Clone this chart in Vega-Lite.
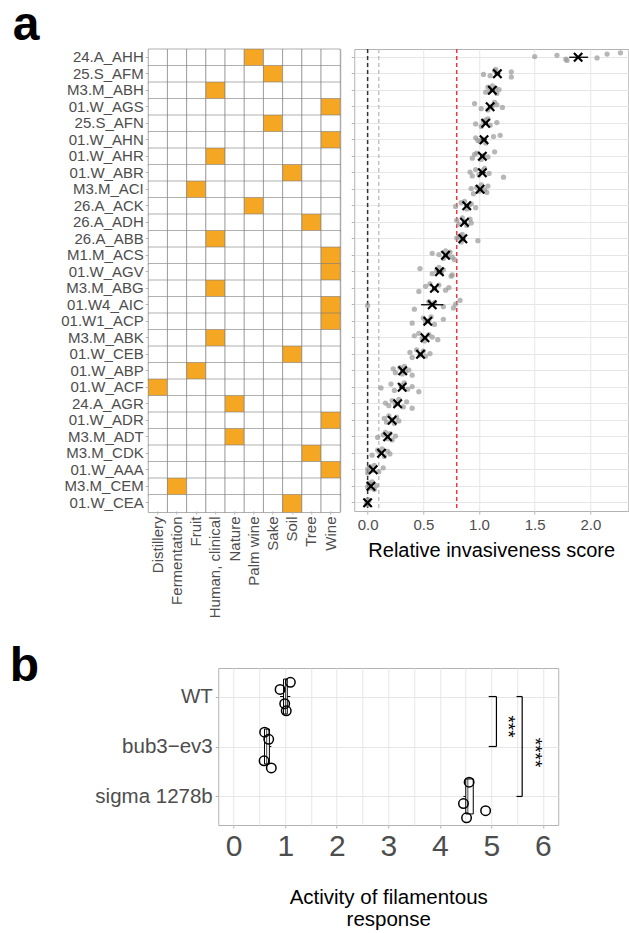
{
"$schema":"https://vega.github.io/schema/vega-lite/v6.json",
"background":"white",
"padding":{"left":8,"top":0,"right":0,"bottom":0},
"config":{
 "font":"Liberation Sans",
 "view":{"stroke":"#b3b3b3","strokeWidth":1},
 "axis":{"domain":false,"labelColor":"#4d4d4d","tickColor":"#b3b3b3","gridColor":"#e6e6e6","titleColor":"#000000","titleFontWeight":"normal","labelFont":"Liberation Sans","titleFont":"Liberation Sans"}
},
"datasets":{
 "origins":[
  {"strain":"24.A_AHH","Distillery":0,"Fermentation":0,"Fruit":0,"Human, clinical":0,"Nature":0,"Palm wine":1,"Sake":0,"Soil":0,"Tree":0,"Wine":0},
  {"strain":"25.S_AFM","Distillery":0,"Fermentation":0,"Fruit":0,"Human, clinical":0,"Nature":0,"Palm wine":0,"Sake":1,"Soil":0,"Tree":0,"Wine":0},
  {"strain":"M3.M_ABH","Distillery":0,"Fermentation":0,"Fruit":0,"Human, clinical":1,"Nature":0,"Palm wine":0,"Sake":0,"Soil":0,"Tree":0,"Wine":0},
  {"strain":"01.W_AGS","Distillery":0,"Fermentation":0,"Fruit":0,"Human, clinical":0,"Nature":0,"Palm wine":0,"Sake":0,"Soil":0,"Tree":0,"Wine":1},
  {"strain":"25.S_AFN","Distillery":0,"Fermentation":0,"Fruit":0,"Human, clinical":0,"Nature":0,"Palm wine":0,"Sake":1,"Soil":0,"Tree":0,"Wine":0},
  {"strain":"01.W_AHN","Distillery":0,"Fermentation":0,"Fruit":0,"Human, clinical":0,"Nature":0,"Palm wine":0,"Sake":0,"Soil":0,"Tree":0,"Wine":1},
  {"strain":"01.W_AHR","Distillery":0,"Fermentation":0,"Fruit":0,"Human, clinical":1,"Nature":0,"Palm wine":0,"Sake":0,"Soil":0,"Tree":0,"Wine":0},
  {"strain":"01.W_ABR","Distillery":0,"Fermentation":0,"Fruit":0,"Human, clinical":0,"Nature":0,"Palm wine":0,"Sake":0,"Soil":1,"Tree":0,"Wine":0},
  {"strain":"M3.M_ACI","Distillery":0,"Fermentation":0,"Fruit":1,"Human, clinical":0,"Nature":0,"Palm wine":0,"Sake":0,"Soil":0,"Tree":0,"Wine":0},
  {"strain":"26.A_ACK","Distillery":0,"Fermentation":0,"Fruit":0,"Human, clinical":0,"Nature":0,"Palm wine":1,"Sake":0,"Soil":0,"Tree":0,"Wine":0},
  {"strain":"26.A_ADH","Distillery":0,"Fermentation":0,"Fruit":0,"Human, clinical":0,"Nature":0,"Palm wine":0,"Sake":0,"Soil":0,"Tree":1,"Wine":0},
  {"strain":"26.A_ABB","Distillery":0,"Fermentation":0,"Fruit":0,"Human, clinical":1,"Nature":0,"Palm wine":0,"Sake":0,"Soil":0,"Tree":0,"Wine":0},
  {"strain":"M1.M_ACS","Distillery":0,"Fermentation":0,"Fruit":0,"Human, clinical":0,"Nature":0,"Palm wine":0,"Sake":0,"Soil":0,"Tree":0,"Wine":1},
  {"strain":"01.W_AGV","Distillery":0,"Fermentation":0,"Fruit":0,"Human, clinical":0,"Nature":0,"Palm wine":0,"Sake":0,"Soil":0,"Tree":0,"Wine":1},
  {"strain":"M3.M_ABG","Distillery":0,"Fermentation":0,"Fruit":0,"Human, clinical":1,"Nature":0,"Palm wine":0,"Sake":0,"Soil":0,"Tree":0,"Wine":0},
  {"strain":"01.W4_AIC","Distillery":0,"Fermentation":0,"Fruit":0,"Human, clinical":0,"Nature":0,"Palm wine":0,"Sake":0,"Soil":0,"Tree":0,"Wine":1},
  {"strain":"01.W1_ACP","Distillery":0,"Fermentation":0,"Fruit":0,"Human, clinical":0,"Nature":0,"Palm wine":0,"Sake":0,"Soil":0,"Tree":0,"Wine":1},
  {"strain":"M3.M_ABK","Distillery":0,"Fermentation":0,"Fruit":0,"Human, clinical":1,"Nature":0,"Palm wine":0,"Sake":0,"Soil":0,"Tree":0,"Wine":0},
  {"strain":"01.W_CEB","Distillery":0,"Fermentation":0,"Fruit":0,"Human, clinical":0,"Nature":0,"Palm wine":0,"Sake":0,"Soil":1,"Tree":0,"Wine":0},
  {"strain":"01.W_ABP","Distillery":0,"Fermentation":0,"Fruit":1,"Human, clinical":0,"Nature":0,"Palm wine":0,"Sake":0,"Soil":0,"Tree":0,"Wine":0},
  {"strain":"01.W_ACF","Distillery":1,"Fermentation":0,"Fruit":0,"Human, clinical":0,"Nature":0,"Palm wine":0,"Sake":0,"Soil":0,"Tree":0,"Wine":0},
  {"strain":"24.A_AGR","Distillery":0,"Fermentation":0,"Fruit":0,"Human, clinical":0,"Nature":1,"Palm wine":0,"Sake":0,"Soil":0,"Tree":0,"Wine":0},
  {"strain":"01.W_ADR","Distillery":0,"Fermentation":0,"Fruit":0,"Human, clinical":0,"Nature":0,"Palm wine":0,"Sake":0,"Soil":0,"Tree":0,"Wine":1},
  {"strain":"M3.M_ADT","Distillery":0,"Fermentation":0,"Fruit":0,"Human, clinical":0,"Nature":1,"Palm wine":0,"Sake":0,"Soil":0,"Tree":0,"Wine":0},
  {"strain":"M3.M_CDK","Distillery":0,"Fermentation":0,"Fruit":0,"Human, clinical":0,"Nature":0,"Palm wine":0,"Sake":0,"Soil":0,"Tree":1,"Wine":0},
  {"strain":"01.W_AAA","Distillery":0,"Fermentation":0,"Fruit":0,"Human, clinical":0,"Nature":0,"Palm wine":0,"Sake":0,"Soil":0,"Tree":0,"Wine":1},
  {"strain":"M3.M_CEM","Distillery":0,"Fermentation":1,"Fruit":0,"Human, clinical":0,"Nature":0,"Palm wine":0,"Sake":0,"Soil":0,"Tree":0,"Wine":0},
  {"strain":"01.W_CEA","Distillery":0,"Fermentation":0,"Fruit":0,"Human, clinical":0,"Nature":0,"Palm wine":0,"Sake":0,"Soil":1,"Tree":0,"Wine":0}
 ],
 "refs":[{"ref":"zero","score":0},{"ref":"low","score":0.1},{"ref":"cutoff","score":0.8}],
 "means":[
  {"strain":"24.A_AHH","score":1.89,"lo":1.81,"hi":1.98},
  {"strain":"25.S_AFM","score":1.165,"lo":1.14,"hi":1.19},
  {"strain":"M3.M_ABH","score":1.12,"lo":1.1,"hi":1.14},
  {"strain":"01.W_AGS","score":1.1,"lo":1.08,"hi":1.12},
  {"strain":"25.S_AFN","score":1.06,"lo":1.04,"hi":1.08},
  {"strain":"01.W_AHN","score":1.045,"lo":1.02,"hi":1.07},
  {"strain":"01.W_AHR","score":1.03,"lo":1.01,"hi":1.05},
  {"strain":"01.W_ABR","score":1.03,"lo":1.0,"hi":1.06},
  {"strain":"M3.M_ACI","score":1.01,"lo":0.99,"hi":1.03},
  {"strain":"26.A_ACK","score":0.89,"lo":0.87,"hi":0.91},
  {"strain":"26.A_ADH","score":0.87,"lo":0.85,"hi":0.89},
  {"strain":"26.A_ABB","score":0.855,"lo":0.835,"hi":0.875},
  {"strain":"M1.M_ACS","score":0.7,"lo":0.68,"hi":0.72},
  {"strain":"01.W_AGV","score":0.645,"lo":0.62,"hi":0.67},
  {"strain":"M3.M_ABG","score":0.6,"lo":0.58,"hi":0.62},
  {"strain":"01.W4_AIC","score":0.58,"lo":0.48,"hi":0.68},
  {"strain":"01.W1_ACP","score":0.54,"lo":0.52,"hi":0.56},
  {"strain":"M3.M_ABK","score":0.515,"lo":0.495,"hi":0.535},
  {"strain":"01.W_CEB","score":0.475,"lo":0.455,"hi":0.495},
  {"strain":"01.W_ABP","score":0.315,"lo":0.295,"hi":0.335},
  {"strain":"01.W_ACF","score":0.31,"lo":0.285,"hi":0.335},
  {"strain":"24.A_AGR","score":0.27,"lo":0.25,"hi":0.29},
  {"strain":"01.W_ADR","score":0.22,"lo":0.205,"hi":0.235},
  {"strain":"M3.M_ADT","score":0.18,"lo":0.165,"hi":0.195},
  {"strain":"M3.M_CDK","score":0.125,"lo":0.11,"hi":0.14},
  {"strain":"01.W_AAA","score":0.05,"lo":0.035,"hi":0.065},
  {"strain":"M3.M_CEM","score":0.03,"lo":0.02,"hi":0.04},
  {"strain":"01.W_CEA","score":0.0,"lo":-0.005,"hi":0.005}
 ],
 "pts":[
  {"strain":"24.A_AHH","rep":1,"score":2.27},{"strain":"24.A_AHH","rep":2,"score":2.15},{"strain":"24.A_AHH","rep":3,"score":1.7},{"strain":"24.A_AHH","rep":4,"score":1.5},{"strain":"24.A_AHH","rep":5,"score":2.06},{"strain":"24.A_AHH","rep":6,"score":1.78},{"strain":"24.A_AHH","rep":7,"score":1.79},
  {"strain":"25.S_AFM","rep":1,"score":1.15},{"strain":"25.S_AFM","rep":2,"score":1.14},{"strain":"25.S_AFM","rep":3,"score":1.29},{"strain":"25.S_AFM","rep":4,"score":1.17},{"strain":"25.S_AFM","rep":5,"score":1.04},{"strain":"25.S_AFM","rep":6,"score":1.1},{"strain":"25.S_AFM","rep":7,"score":1.29},
  {"strain":"M3.M_ABH","rep":1,"score":1.12},{"strain":"M3.M_ABH","rep":2,"score":1.08},{"strain":"M3.M_ABH","rep":3,"score":1.15},{"strain":"M3.M_ABH","rep":4,"score":1.18},{"strain":"M3.M_ABH","rep":5,"score":1.1},{"strain":"M3.M_ABH","rep":6,"score":1.06},{"strain":"M3.M_ABH","rep":7,"score":1.16},
  {"strain":"01.W_AGS","rep":1,"score":1.14},{"strain":"01.W_AGS","rep":2,"score":0.96},{"strain":"01.W_AGS","rep":3,"score":1.16},{"strain":"01.W_AGS","rep":4,"score":1.12},{"strain":"01.W_AGS","rep":5,"score":1.21},{"strain":"01.W_AGS","rep":6,"score":1.02},{"strain":"01.W_AGS","rep":7,"score":1.08},
  {"strain":"25.S_AFN","rep":1,"score":1.08},{"strain":"25.S_AFN","rep":2,"score":1.06},{"strain":"25.S_AFN","rep":3,"score":1.04},{"strain":"25.S_AFN","rep":4,"score":1.16},{"strain":"25.S_AFN","rep":5,"score":0.97},{"strain":"25.S_AFN","rep":6,"score":1.1},{"strain":"25.S_AFN","rep":7,"score":1.02},
  {"strain":"01.W_AHN","rep":1,"score":1.19},{"strain":"01.W_AHN","rep":2,"score":1.13},{"strain":"01.W_AHN","rep":3,"score":0.97},{"strain":"01.W_AHN","rep":4,"score":1.03},{"strain":"01.W_AHN","rep":5,"score":0.99},{"strain":"01.W_AHN","rep":6,"score":1.01},{"strain":"01.W_AHN","rep":7,"score":1.06},
  {"strain":"01.W_AHR","rep":1,"score":1.14},{"strain":"01.W_AHR","rep":2,"score":0.98},{"strain":"01.W_AHR","rep":3,"score":0.96},{"strain":"01.W_AHR","rep":4,"score":1.04},{"strain":"01.W_AHR","rep":5,"score":1.08},{"strain":"01.W_AHR","rep":6,"score":0.94},{"strain":"01.W_AHR","rep":7,"score":1.02},
  {"strain":"01.W_ABR","rep":1,"score":1.05},{"strain":"01.W_ABR","rep":2,"score":0.97},{"strain":"01.W_ABR","rep":3,"score":1.03},{"strain":"01.W_ABR","rep":4,"score":0.92},{"strain":"01.W_ABR","rep":5,"score":1.09},{"strain":"01.W_ABR","rep":6,"score":1.0},{"strain":"01.W_ABR","rep":7,"score":0.94},{"strain":"01.W_ABR","rep":8,"score":1.22},
  {"strain":"M3.M_ACI","rep":1,"score":1.02},{"strain":"M3.M_ACI","rep":2,"score":1.08},{"strain":"M3.M_ACI","rep":3,"score":0.98},{"strain":"M3.M_ACI","rep":4,"score":0.93},{"strain":"M3.M_ACI","rep":5,"score":1.05},{"strain":"M3.M_ACI","rep":6,"score":1.0},{"strain":"M3.M_ACI","rep":7,"score":1.07},{"strain":"M3.M_ACI","rep":8,"score":0.95},
  {"strain":"26.A_ACK","rep":1,"score":0.87},{"strain":"26.A_ACK","rep":2,"score":0.84},{"strain":"26.A_ACK","rep":3,"score":0.93},{"strain":"26.A_ACK","rep":4,"score":0.91},{"strain":"26.A_ACK","rep":5,"score":0.79},{"strain":"26.A_ACK","rep":6,"score":0.97},{"strain":"26.A_ACK","rep":7,"score":0.89},
  {"strain":"26.A_ADH","rep":1,"score":0.85},{"strain":"26.A_ADH","rep":2,"score":0.92},{"strain":"26.A_ADH","rep":3,"score":0.8},{"strain":"26.A_ADH","rep":4,"score":0.87},{"strain":"26.A_ADH","rep":5,"score":0.93},{"strain":"26.A_ADH","rep":6,"score":0.82},{"strain":"26.A_ADH","rep":7,"score":0.89},
  {"strain":"26.A_ABB","rep":1,"score":0.85},{"strain":"26.A_ABB","rep":2,"score":0.83},{"strain":"26.A_ABB","rep":3,"score":0.82},{"strain":"26.A_ABB","rep":4,"score":0.8},{"strain":"26.A_ABB","rep":5,"score":0.86},{"strain":"26.A_ABB","rep":6,"score":0.99},{"strain":"26.A_ABB","rep":7,"score":0.84},
  {"strain":"M1.M_ACS","rep":1,"score":0.7},{"strain":"M1.M_ACS","rep":2,"score":0.74},{"strain":"M1.M_ACS","rep":3,"score":0.58},{"strain":"M1.M_ACS","rep":4,"score":0.64},{"strain":"M1.M_ACS","rep":5,"score":0.72},{"strain":"M1.M_ACS","rep":6,"score":0.76},{"strain":"M1.M_ACS","rep":7,"score":0.68},{"strain":"M1.M_ACS","rep":8,"score":0.78},
  {"strain":"01.W_AGV","rep":1,"score":0.64},{"strain":"01.W_AGV","rep":2,"score":0.47},{"strain":"01.W_AGV","rep":3,"score":0.68},{"strain":"01.W_AGV","rep":4,"score":0.62},{"strain":"01.W_AGV","rep":5,"score":0.66},{"strain":"01.W_AGV","rep":6,"score":0.58},{"strain":"01.W_AGV","rep":7,"score":0.76},{"strain":"01.W_AGV","rep":8,"score":0.75},
  {"strain":"M3.M_ABG","rep":1,"score":0.56},{"strain":"M3.M_ABG","rep":2,"score":0.64},{"strain":"M3.M_ABG","rep":3,"score":0.52},{"strain":"M3.M_ABG","rep":4,"score":0.73},{"strain":"M3.M_ABG","rep":5,"score":0.6},{"strain":"M3.M_ABG","rep":6,"score":0.7},{"strain":"M3.M_ABG","rep":7,"score":0.46},
  {"strain":"01.W4_AIC","rep":1,"score":0.83},{"strain":"01.W4_AIC","rep":2,"score":0.55},{"strain":"01.W4_AIC","rep":3,"score":0.6},{"strain":"01.W4_AIC","rep":4,"score":0.79},{"strain":"01.W4_AIC","rep":5,"score":0.0},{"strain":"01.W4_AIC","rep":6,"score":0.68},{"strain":"01.W4_AIC","rep":7,"score":0.77},{"strain":"01.W4_AIC","rep":8,"score":0.42},
  {"strain":"01.W1_ACP","rep":1,"score":0.57},{"strain":"01.W1_ACP","rep":2,"score":0.5},{"strain":"01.W1_ACP","rep":3,"score":0.68},{"strain":"01.W1_ACP","rep":4,"score":0.55},{"strain":"01.W1_ACP","rep":5,"score":0.52},{"strain":"01.W1_ACP","rep":6,"score":0.4},{"strain":"01.W1_ACP","rep":7,"score":0.6},
  {"strain":"M3.M_ABK","rep":1,"score":0.46},{"strain":"M3.M_ABK","rep":2,"score":0.55},{"strain":"M3.M_ABK","rep":3,"score":0.42},{"strain":"M3.M_ABK","rep":4,"score":0.58},{"strain":"M3.M_ABK","rep":5,"score":0.49},{"strain":"M3.M_ABK","rep":6,"score":0.63},{"strain":"M3.M_ABK","rep":7,"score":0.51},
  {"strain":"01.W_CEB","rep":1,"score":0.44},{"strain":"01.W_CEB","rep":2,"score":0.5},{"strain":"01.W_CEB","rep":3,"score":0.38},{"strain":"01.W_CEB","rep":4,"score":0.56},{"strain":"01.W_CEB","rep":5,"score":0.47},{"strain":"01.W_CEB","rep":6,"score":0.52},{"strain":"01.W_CEB","rep":7,"score":0.4},
  {"strain":"01.W_ABP","rep":1,"score":0.33},{"strain":"01.W_ABP","rep":2,"score":0.29},{"strain":"01.W_ABP","rep":3,"score":0.23},{"strain":"01.W_ABP","rep":4,"score":0.37},{"strain":"01.W_ABP","rep":5,"score":0.34},{"strain":"01.W_ABP","rep":6,"score":0.25},{"strain":"01.W_ABP","rep":7,"score":0.31},{"strain":"01.W_ABP","rep":8,"score":0.4},
  {"strain":"01.W_ACF","rep":1,"score":0.33},{"strain":"01.W_ACF","rep":2,"score":0.21},{"strain":"01.W_ACF","rep":3,"score":0.3},{"strain":"01.W_ACF","rep":4,"score":0.4},{"strain":"01.W_ACF","rep":5,"score":0.12},{"strain":"01.W_ACF","rep":6,"score":0.36},{"strain":"01.W_ACF","rep":7,"score":0.24},{"strain":"01.W_ACF","rep":8,"score":0.46},
  {"strain":"24.A_AGR","rep":1,"score":0.28},{"strain":"24.A_AGR","rep":2,"score":0.22},{"strain":"24.A_AGR","rep":3,"score":0.35},{"strain":"24.A_AGR","rep":4,"score":0.16},{"strain":"24.A_AGR","rep":5,"score":0.25},{"strain":"24.A_AGR","rep":6,"score":0.19},{"strain":"24.A_AGR","rep":7,"score":0.32},{"strain":"24.A_AGR","rep":8,"score":0.4},
  {"strain":"01.W_ADR","rep":1,"score":0.19},{"strain":"01.W_ADR","rep":2,"score":0.26},{"strain":"01.W_ADR","rep":3,"score":0.15},{"strain":"01.W_ADR","rep":4,"score":0.22},{"strain":"01.W_ADR","rep":5,"score":0.28},{"strain":"01.W_ADR","rep":6,"score":0.17},{"strain":"01.W_ADR","rep":7,"score":0.24},
  {"strain":"M3.M_ADT","rep":1,"score":0.16},{"strain":"M3.M_ADT","rep":2,"score":0.2},{"strain":"M3.M_ADT","rep":3,"score":0.14},{"strain":"M3.M_ADT","rep":4,"score":0.25},{"strain":"M3.M_ADT","rep":5,"score":0.09},{"strain":"M3.M_ADT","rep":6,"score":0.18},{"strain":"M3.M_ADT","rep":7,"score":0.22},
  {"strain":"M3.M_CDK","rep":1,"score":0.13},{"strain":"M3.M_CDK","rep":2,"score":0.09},{"strain":"M3.M_CDK","rep":3,"score":0.18},{"strain":"M3.M_CDK","rep":4,"score":0.11},{"strain":"M3.M_CDK","rep":5,"score":0.2},{"strain":"M3.M_CDK","rep":6,"score":0.04},{"strain":"M3.M_CDK","rep":7,"score":0.15},
  {"strain":"01.W_AAA","rep":1,"score":0.06},{"strain":"01.W_AAA","rep":2,"score":0.02},{"strain":"01.W_AAA","rep":3,"score":0.14},{"strain":"01.W_AAA","rep":4,"score":0.0},{"strain":"01.W_AAA","rep":5,"score":0.04},{"strain":"01.W_AAA","rep":6,"score":0.1},{"strain":"01.W_AAA","rep":7,"score":0.0},
  {"strain":"M3.M_CEM","rep":1,"score":0.04},{"strain":"M3.M_CEM","rep":2,"score":0.01},{"strain":"M3.M_CEM","rep":3,"score":0.03},{"strain":"M3.M_CEM","rep":4,"score":0.08},{"strain":"M3.M_CEM","rep":5,"score":0.0},{"strain":"M3.M_CEM","rep":6,"score":0.02},{"strain":"M3.M_CEM","rep":7,"score":0.06},
  {"strain":"01.W_CEA","rep":2,"score":0.0},{"strain":"01.W_CEA","rep":3,"score":0.01},{"strain":"01.W_CEA","rep":4,"score":0.0},{"strain":"01.W_CEA","rep":5,"score":-0.01},{"strain":"01.W_CEA","rep":6,"score":0.0}
 ],
 "filament":[
  {"strain":"WT","slot":"WT #2","activity":1.1},{"strain":"WT","slot":"WT #3","activity":0.9},{"strain":"WT","slot":"WT #4","activity":0.99},{"strain":"WT","slot":"WT #5","activity":1.02},
  {"strain":"bub3−ev3","slot":"bub3−ev3 #2","activity":0.6},{"strain":"bub3−ev3","slot":"bub3−ev3 #3","activity":0.68},{"strain":"bub3−ev3","slot":"bub3−ev3 #5","activity":0.59},{"strain":"bub3−ev3","slot":"bub3−ev3 #6","activity":0.73},
  {"strain":"sigma 1278b","slot":"sigma 1278b #2","activity":4.57},{"strain":"sigma 1278b","slot":"sigma 1278b #4","activity":4.46},{"strain":"sigma 1278b","slot":"sigma 1278b #5","activity":4.89},{"strain":"sigma 1278b","slot":"sigma 1278b #6","activity":4.52}
 ],
 "brackets":[{"strain":"WT","strain2":"bub3−ev3","activity":5.1},{"strain":"WT","strain2":"sigma 1278b","activity":5.6}],
 "bracketEnds":[
  {"strain":"WT","activity":4.95,"activity2":5.1},{"strain":"bub3−ev3","activity":4.95,"activity2":5.1},
  {"strain":"WT","activity":5.49,"activity2":5.6},{"strain":"sigma 1278b","activity":5.49,"activity2":5.6}
 ],
 "sig3":[{"strain":"WT","activity":5.33,"label":"***"}],
 "sig4":[{"strain":"bub3−ev3","activity":5.85,"label":"****"}]
},
"columns":1,
"center":true,
"spacing":22,
"concat":[
 {
  "spacing":9,
  "hconcat":[
   {
    "width":192,"height":462,
    "data":{"name":"origins"},
    "transform":[{"fold":["Distillery","Fermentation","Fruit","Human, clinical","Nature","Palm wine","Sake","Soil","Tree","Wine"],"as":["origin","isolated"]}],
    "mark":{"type":"rect","stroke":"#7a7a7a","strokeWidth":0.6},
    "encoding":{
     "x":{"field":"origin","type":"nominal","scale":{"domain":["Distillery","Fermentation","Fruit","Human, clinical","Nature","Palm wine","Sake","Soil","Tree","Wine"],"paddingInner":0,"paddingOuter":0},
          "axis":{"labelAngle":-90,"labelFontSize":15,"tickSize":3,"labelPadding":2,"title":null,"grid":false}},
     "y":{"field":"strain","type":"nominal","scale":{"domain":["24.A_AHH","25.S_AFM","M3.M_ABH","01.W_AGS","25.S_AFN","01.W_AHN","01.W_AHR","01.W_ABR","M3.M_ACI","26.A_ACK","26.A_ADH","26.A_ABB","M1.M_ACS","01.W_AGV","M3.M_ABG","01.W4_AIC","01.W1_ACP","M3.M_ABK","01.W_CEB","01.W_ABP","01.W_ACF","24.A_AGR","01.W_ADR","M3.M_ADT","M3.M_CDK","01.W_AAA","M3.M_CEM","01.W_CEA"],"paddingInner":0,"paddingOuter":0},
          "axis":{"labelFontSize":15,"tickSize":3,"labelPadding":2,"grid":false,"title":"a","titleAngle":0,"titleFontSize":48,"titleFontWeight":"bold","titleColor":"#000000","titleX":-136,"titleY":-10,"titleAlign":"left","titleBaseline":"alphabetic"}},
     "fill":{"field":"isolated","type":"nominal","scale":{"domain":[0,1],"range":["#ffffff","#F5A623"]},"legend":null}
    }
   },
   {
    "width":274,"height":462,
    "layer":[
     {"data":{"name":"refs"},"mark":{"type":"rule","strokeDash":[4,3],"strokeWidth":1.5},
      "encoding":{
       "x":{"field":"score","type":"quantitative","scale":{"domain":[-0.12,2.34],"nice":false,"zero":false},
            "axis":{"values":[0,0.25,0.5,0.75,1,1.25,1.5,1.75,2,2.25],"labelExpr":"datum.value % 0.5 === 0 ? format(datum.value, '.1f') : ''","labelFontSize":15,"labelOverlap":false,"labelFlush":false,"labelPadding":3,"tickSize":3,"tickOpacity":{"condition":{"test":"datum.value % 0.5 !== 0","value":0},"value":1},"grid":true,"title":"Relative invasiveness score","titleFontSize":20,"titlePadding":8}},
       "color":{"field":"ref","type":"nominal","scale":{"domain":["zero","low","cutoff"],"range":["#333333","#c4c4c4","#e8393c"]},"legend":null}
      }},
     {"data":{"name":"pts"},"mark":{"type":"circle","color":"#999999","opacity":0.7,"size":28},
      "encoding":{
       "x":{"field":"score","type":"quantitative","scale":{"domain":[-0.12,2.34],"nice":false,"zero":false}},
       "y":{"field":"strain","type":"nominal","scale":{"domain":["24.A_AHH","25.S_AFM","M3.M_ABH","01.W_AGS","25.S_AFN","01.W_AHN","01.W_AHR","01.W_ABR","M3.M_ACI","26.A_ACK","26.A_ADH","26.A_ABB","M1.M_ACS","01.W_AGV","M3.M_ABG","01.W4_AIC","01.W1_ACP","M3.M_ABK","01.W_CEB","01.W_ABP","01.W_ACF","24.A_AGR","01.W_ADR","M3.M_ADT","M3.M_CDK","01.W_AAA","M3.M_CEM","01.W_CEA"],"paddingInner":0,"paddingOuter":0},
            "axis":{"labels":false,"ticks":true,"tickSize":3,"title":null,"grid":true}},
       "yOffset":{"field":"rep","type":"quantitative","scale":{"domain":[-2,11]}}
      }},
     {"data":{"name":"means"},"mark":{"type":"rule","color":"#000000","strokeWidth":1.3},
      "encoding":{
       "x":{"field":"lo","type":"quantitative","scale":{"domain":[-0.12,2.34],"nice":false,"zero":false}},
       "x2":{"field":"hi"},
       "y":{"field":"strain","type":"nominal"}
      }},
     {"data":{"name":"means"},"mark":{"type":"point","shape":"M-1,-1L1,1M-1,1L1,-1","filled":false,"color":"#000000","strokeWidth":2.2,"size":70,"opacity":1},
      "encoding":{
       "x":{"field":"score","type":"quantitative","scale":{"domain":[-0.12,2.34],"nice":false,"zero":false}},
       "y":{"field":"strain","type":"nominal"}
      }}
    ]
   }
  ]
 },
 {
  "width":340,"height":157,
  "encoding":{
   "y":{"field":"strain","type":"nominal","scale":{"type":"point","domain":["WT #1","WT #2","WT #3","WT","WT #4","WT #5","WT #6","bub3−ev3 #1","bub3−ev3 #2","bub3−ev3 #3","bub3−ev3","bub3−ev3 #4","bub3−ev3 #5","bub3−ev3 #6","sigma 1278b #1","sigma 1278b #2","sigma 1278b #3","sigma 1278b","sigma 1278b #4","sigma 1278b #5","sigma 1278b #6"],"padding":1.21},
        "axis":{"labelExpr":"indexof(datum.value, '#') >= 0 ? '' : datum.value","labelOverlap":false,"labelFontSize":20.5,"tickSize":3,"labelPadding":3,"grid":true,
                "tickOpacity":{"condition":{"test":"indexof(datum.value, '#') >= 0","value":0},"value":1},
                "gridOpacity":{"condition":{"test":"indexof(datum.value, '#') >= 0","value":0},"value":1},
                "title":"b","titleAngle":0,"titleFontSize":48,"titleFontWeight":"bold","titleColor":"#000000","titleX":-209,"titleY":12,"titleAlign":"left","titleBaseline":"alphabetic"}},
   "x":{"field":"activity","type":"quantitative","scale":{"domain":[-0.3,6.3],"nice":false,"zero":false},
        "axis":{"values":[0,0.5,1,1.5,2,2.5,3,3.5,4,4.5,5,5.5,6],"labelExpr":"datum.value % 1 === 0 ? format(datum.value, 'd') : ''","labelFontSize":30,"labelOverlap":false,"labelFlush":false,"labelPadding":3,"tickSize":3,"tickOpacity":{"condition":{"test":"datum.value % 1 !== 0","value":0},"value":1},"grid":true,"title":["Activity of filamentous","response"],"titleFontSize":20.5,"titlePadding":26,"titleLineHeight":22}}
  },
  "layer":[
   {"data":{"name":"filament"},"mark":{"type":"boxplot","extent":1.5,"size":35,"outliers":false,"ticks":false,"box":{"fill":"#ffffff","stroke":"#000000","strokeWidth":1},"median":{"color":"#000000","strokeWidth":1.5},"rule":{"color":"#000000","strokeWidth":1}}},
   {"data":{"name":"filament"},"mark":{"type":"point","shape":"circle","filled":false,"color":"#000000","strokeWidth":1.5,"size":90,"opacity":1},
    "encoding":{"y":{"field":"slot","type":"nominal"}}},
   {"data":{"name":"brackets"},"mark":{"type":"rule","color":"#000000","strokeWidth":1.2},
    "encoding":{"y2":{"field":"strain2"}}},
   {"data":{"name":"bracketEnds"},"mark":{"type":"rule","color":"#000000","strokeWidth":1.2},
    "encoding":{"x2":{"field":"activity2"}}},
   {"data":{"name":"sig3"},"mark":{"type":"text","angle":90,"fontSize":19,"align":"center","baseline":"middle","dx":30,"color":"#000000"},
    "encoding":{"text":{"field":"label"}}},
   {"data":{"name":"sig4"},"mark":{"type":"text","angle":90,"fontSize":19,"align":"center","baseline":"middle","dx":6,"color":"#000000"},
    "encoding":{"text":{"field":"label"}}}
  ]
 }
]
}
